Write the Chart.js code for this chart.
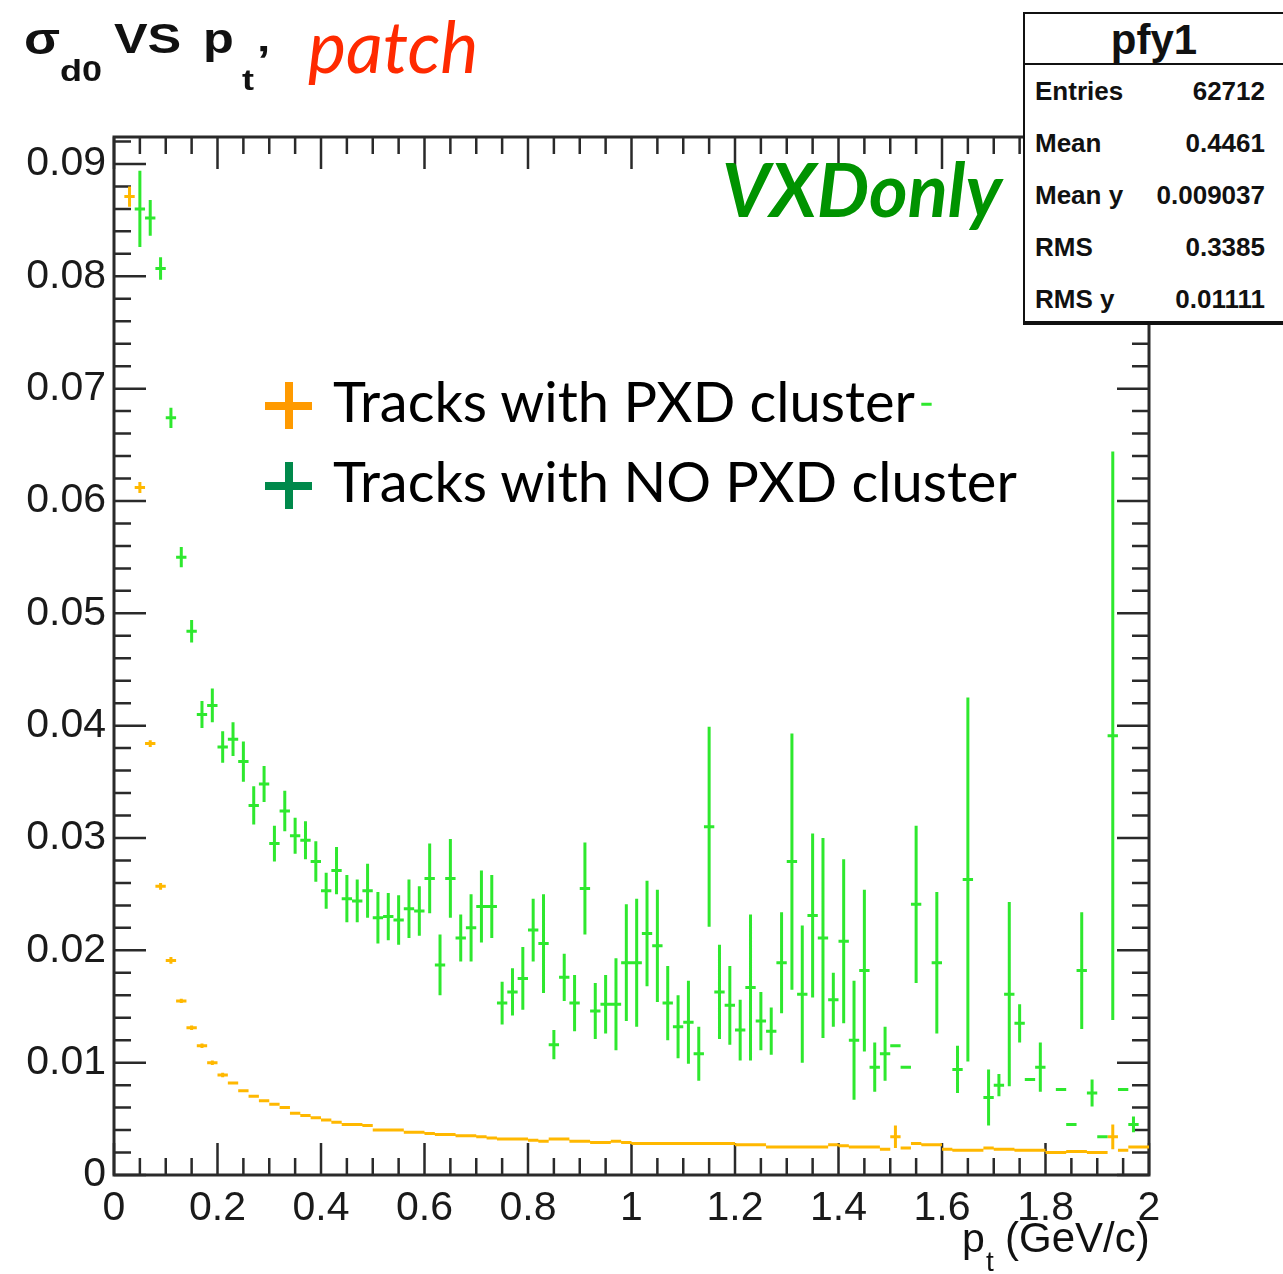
<!DOCTYPE html>
<html>
<head>
<meta charset="utf-8">
<script src="https://cdn.jsdelivr.net/npm/chart.js@4.4.1/dist/chart.umd.min.js"></script>
<style>
  html, body { margin: 0; background: #fff; }
  #wrap { position: relative; width: 1283px; height: 1274px; overflow: hidden; }
  #plot { position: absolute; left: 0; top: 0; }
  .t { position: absolute; line-height: 1; white-space: nowrap; }
  .root { font-family: 'Liberation Sans', Arial, sans-serif; color: #111; }
  .title { font-weight: bold; transform-origin: left top; transform: scaleX(1.2); }
  .gill { font-family: Lato, 'Open Sans', sans-serif; }
  .cross { position: absolute; width: 47px; height: 47px; }
  .cross::before, .cross::after { content: ''; position: absolute; background: var(--c); }
  .cross::before { left: 0; right: 0; top: 19.5px; height: 8px; }
  .cross::after { top: 0; bottom: 0; left: 19.5px; width: 8px; }
  #stats {
    position: absolute; left: 1023px; top: 12px; width: 280px; height: 307px;
    border: 2px solid #111; border-bottom-width: 4px; background: #fff;
    font: bold 26px 'Liberation Sans', Arial, sans-serif; color: #111; overflow: hidden;
  }
  #stats .head { width: 258px; height: 49px; border-bottom: 2px solid #111; text-align: center;
    font-size: 42px; line-height: 52px; }
  #stats .row { display: flex; justify-content: space-between; width: 230px; padding-left: 10px;
    height: 52px; line-height: 52px; }
</style>
</head>
<body>
<div id="wrap">
  <canvas id="plot" width="1283" height="1274"></canvas>

  <!-- title -->
  <span class="t root title" style="left:24px; top:17px; font-size:44px;">σ</span>
  <span class="t root title" style="left:60px; top:56px; font-size:30px;">d0</span>
  <span class="t root title" style="left:114px; top:18px; font-size:42px;">VS</span>
  <span class="t root title" style="left:203px; top:18px; font-size:42px;">p</span>
  <span class="t root title" style="left:242px; top:65px; font-size:30px;">t</span>
  <span class="t root title" style="left:257px; top:40px; font-size:40px;">’</span>
  <span class="t gill" style="left:308px; top:9px; font-size:72px; font-style:italic; color:#ff2a00;">patch</span>

  <span class="t gill" style="left:722px; top:152px; font-size:74px; font-style:italic; font-weight:bold; color:#009300;">VXDonly</span>

  <!-- legend -->
  <div class="cross" style="left:265px; top:382px; --c:#ff9a00;"></div>
  <div class="cross" style="left:265px; top:462px; --c:#00894b;"></div>
  <span class="t gill" style="left:333px; top:373px; font-size:56px; color:#000;">Tracks with PXD cluster</span>
  <span class="t gill" style="left:333px; top:453px; font-size:56px; color:#000;">Tracks with NO PXD cluster</span>

  <!-- x axis title -->
  <span class="t root" style="left:962px; top:1218px; font-size:41px;">p</span>
  <span class="t root" style="left:986px; top:1248px; font-size:28px;">t</span>
  <span class="t root" style="left:1005px; top:1217px; font-size:42px;">(GeV/c)</span>

  <!-- stats box -->
  <div id="stats">
    <div class="head">pfy1</div>
    <div class="row"><span>Entries</span><span>62712</span></div>
    <div class="row"><span>Mean</span><span>0.4461</span></div>
    <div class="row"><span>Mean y</span><span>0.009037</span></div>
    <div class="row"><span>RMS</span><span>0.3385</span></div>
    <div class="row"><span>RMS y</span><span>0.01111</span></div>
  </div>
</div>

<script>
// profile bins: 100 bins of 0.02 GeV/c between 0 and 2
const binCenters = [
  0.01, 0.03, 0.05, 0.07, 0.09, 0.11, 0.13, 0.15, 0.17, 0.19,
  0.21, 0.23, 0.25, 0.27, 0.29, 0.31, 0.33, 0.35, 0.37, 0.39,
  0.41, 0.43, 0.45, 0.47, 0.49, 0.51, 0.53, 0.55, 0.57, 0.59,
  0.61, 0.63, 0.65, 0.67, 0.69, 0.71, 0.73, 0.75, 0.77, 0.79,
  0.81, 0.83, 0.85, 0.87, 0.89, 0.91, 0.93, 0.95, 0.97, 0.99,
  1.01, 1.03, 1.05, 1.07, 1.09, 1.11, 1.13, 1.15, 1.17, 1.19,
  1.21, 1.23, 1.25, 1.27, 1.29, 1.31, 1.33, 1.35, 1.37, 1.39,
  1.41, 1.43, 1.45, 1.47, 1.49, 1.51, 1.53, 1.55, 1.57, 1.59,
  1.61, 1.63, 1.65, 1.67, 1.69, 1.71, 1.73, 1.75, 1.77, 1.79,
  1.81, 1.83, 1.85, 1.87, 1.89, 1.91, 1.93, 1.95, 1.97, 1.99,
];
const binHalfWidth = 0.01;

// tracks with PXD cluster (orange)
const pxdMean = [
  null, 0.0871, 0.0612, 0.0384, 0.0257, 0.0191, 0.0155, 0.0131, 0.0115, 0.0100,
  0.0089, 0.0082, 0.0075, 0.0070, 0.0066, 0.0063, 0.0060, 0.0055, 0.0053, 0.0051,
  0.0049, 0.0047, 0.0045, 0.0045, 0.0044, 0.0040, 0.0040, 0.0040, 0.0038, 0.0038,
  0.0037, 0.0036, 0.0036, 0.0035, 0.0035, 0.0034, 0.0033, 0.0032, 0.0032, 0.0032,
  0.0031, 0.0030, 0.0032, 0.0032, 0.0030, 0.0030, 0.0029, 0.0029, 0.0030, 0.0029,
  0.0028, 0.0028, 0.0028, 0.0028, 0.0028, 0.0028, 0.0028, 0.0028, 0.0028, 0.0028,
  0.0027, 0.0027, 0.0027, 0.0025, 0.0025, 0.0025, 0.0025, 0.0025, 0.0025, 0.0027,
  0.0026, 0.0025, 0.0025, 0.0025, 0.0023, 0.0034, 0.0024, 0.0028, 0.0027, 0.0027,
  0.0023, 0.0022, 0.0022, 0.0022, 0.0024, 0.0023, 0.0023, 0.0022, 0.0022, 0.0022,
  0.0020, 0.0020, 0.0021, 0.0021, 0.0020, 0.0020, 0.0034, 0.0022, 0.0025, 0.0025,
];
const pxdErr = [
  0, 0.0009, 0.0005, 0.0003, 0.0003, 0.0003, 0.0002, 0.0002, 0.0002, 0.0002,
  0.0002, 0.0001, 0.0001, 0.0001, 0.0001, 0.0001, 0.0001, 0.0001, 0.0001, 0.0001,
  0.0001, 0.0001, 0.0001, 0.0001, 0.0001, 0, 0, 0, 0, 0,
  0, 0, 0, 0, 0, 0, 0, 0, 0, 0,
  0, 0, 0, 0, 0, 0, 0, 0, 0, 0,
  0, 0, 0, 0, 0, 0, 0, 0, 0, 0,
  0, 0, 0, 0, 0, 0, 0, 0, 0, 0,
  0, 0, 0, 0, 0, 0.0010, 0, 0, 0, 0,
  0, 0, 0, 0, 0, 0, 0, 0, 0, 0,
  0, 0, 0, 0, 0, 0, 0.0011, 0, 0, 0,
];

// tracks with NO PXD cluster (green)
const noPxdMean = [
  null, null, 0.0860, 0.0852, 0.0807, 0.0674, 0.0550, 0.0484, 0.0410, 0.0418,
  0.0381, 0.0388, 0.0368, 0.0329, 0.0348, 0.0295, 0.0324, 0.0302, 0.0298, 0.0279,
  0.0253, 0.0271, 0.0246, 0.0244, 0.0253, 0.0229, 0.0230, 0.0227, 0.0237, 0.0235,
  0.0264, 0.0187, 0.0264, 0.0211, 0.0220, 0.0239, 0.0239, 0.0153, 0.0163, 0.0175,
  0.0218, 0.0206, 0.0116, 0.0176, 0.0153, 0.0255, 0.0146, 0.0152, 0.0152, 0.0189,
  0.0189, 0.0215, 0.0204, 0.0153, 0.0132, 0.0136, 0.0108, 0.0310, 0.0163, 0.0151,
  0.0129, 0.0167, 0.0137, 0.0128, 0.0189, 0.0279, 0.0161, 0.0231, 0.0211, 0.0156,
  0.0208, 0.0120, 0.0182, 0.0096, 0.0108, 0.0115, 0.0096, 0.0241, 0.0686, 0.0189,
  null, 0.0094, 0.0263, null, 0.0069, 0.0080, 0.0161, 0.0135, 0.0085, 0.0096,
  null, 0.0076, 0.0045, 0.0182, 0.0073, 0.0034, 0.0391, 0.0076, 0.0045, null,
];
const noPxdErr = [
  0, 0, 0.0034, 0.0016, 0.0010, 0.0009, 0.0009, 0.0010, 0.0012, 0.0015,
  0.0014, 0.0015, 0.0018, 0.0017, 0.0016, 0.0016, 0.0018, 0.0016, 0.0017, 0.0018,
  0.0016, 0.0021, 0.0021, 0.0019, 0.0024, 0.0023, 0.0021, 0.0022, 0.0026, 0.0022,
  0.0031, 0.0027, 0.0035, 0.0021, 0.0030, 0.0032, 0.0028, 0.0019, 0.0021, 0.0028,
  0.0028, 0.0044, 0.0013, 0.0021, 0.0025, 0.0041, 0.0025, 0.0026, 0.0041, 0.0052,
  0.0057, 0.0047, 0.0050, 0.0033, 0.0028, 0.0037, 0.0024, 0.0089, 0.0042, 0.0035,
  0.0027, 0.0065, 0.0026, 0.0021, 0.0045, 0.0114, 0.0061, 0.0073, 0.0089, 0.0024,
  0.0073, 0.0053, 0.0072, 0.0022, 0.0024, 0, 0, 0.0070, 0, 0.0063,
  0, 0.0021, 0.0162, 0, 0.0025, 0.0010, 0.0082, 0.0017, 0, 0.0022,
  0, 0, 0, 0.0052, 0.0012, 0, 0.0253, 0, 0.0007, 0,
];

const xTickStep = 0.2;
const yTickStep = 0.01;
const yMax = 0.0924;

function toPoints(means, errs) {
  return binCenters
    .map((x, i) => ({ x, y: means[i], ey: errs[i] }))
    .filter((p) => p.y !== null);
}

// ROOT-style frame: ticks on all four sides, pointing inward
const rootFrame = {
  id: 'rootFrame',
  beforeDatasetsDraw(chart) {
    const { ctx, chartArea: a, scales: { x, y } } = chart;
    const major = 32;
    const minor = 17;
    ctx.save();
    ctx.strokeStyle = '#2a2a2a';
    ctx.lineWidth = 2.5;
    ctx.beginPath();
    const xt = x.ticks.map((t) => t.value);
    xt.forEach((v, i) => {
      const px = x.getPixelForValue(v);
      ctx.moveTo(px, a.bottom); ctx.lineTo(px, a.bottom - major);
      ctx.moveTo(px, a.top); ctx.lineTo(px, a.top + major);
      if (i === xt.length - 1) return;
      for (let k = 1; k < 4; k++) {
        const m = x.getPixelForValue(v + (k * (xt[i + 1] - v)) / 4);
        ctx.moveTo(m, a.bottom); ctx.lineTo(m, a.bottom - minor);
        ctx.moveTo(m, a.top); ctx.lineTo(m, a.top + minor);
      }
    });
    const yt = y.ticks.map((t) => t.value);
    yt.forEach((v, i) => {
      const py = y.getPixelForValue(v);
      ctx.moveTo(a.left, py); ctx.lineTo(a.left + major, py);
      ctx.moveTo(a.right, py); ctx.lineTo(a.right - major, py);
      const next = i < yt.length - 1 ? yt[i + 1] : v + yTickStep;
      for (let k = 1; k < 5; k++) {
        const val = v + (k * (next - v)) / 5;
        if (val > y.max) break;
        const m = y.getPixelForValue(val);
        ctx.moveTo(a.left, m); ctx.lineTo(a.left + minor, m);
        ctx.moveTo(a.right, m); ctx.lineTo(a.right - minor, m);
      }
    });
    ctx.stroke();
    ctx.lineWidth = 3;
    ctx.strokeRect(a.left, a.top, a.right - a.left, a.bottom - a.top);
    ctx.restore();
  },
};

// profile markers: horizontal bar = bin width, vertical bar = error on the mean
const errorBars = {
  id: 'errorBars',
  afterDatasetsDraw(chart) {
    const { ctx, chartArea: a, scales: { x, y } } = chart;
    ctx.save();
    ctx.beginPath();
    ctx.rect(a.left, a.top, a.right - a.left, a.bottom - a.top);
    ctx.clip();
    chart.data.datasets.forEach((ds) => {
      ctx.strokeStyle = ds.borderColor;
      ctx.lineWidth = ds.borderWidth;
      ctx.beginPath();
      ds.data.forEach((p) => {
        const py = y.getPixelForValue(p.y);
        const px = x.getPixelForValue(p.x);
        ctx.moveTo(x.getPixelForValue(p.x - binHalfWidth), py);
        ctx.lineTo(x.getPixelForValue(p.x + binHalfWidth), py);
        if (p.ey > 0) {
          ctx.moveTo(px, y.getPixelForValue(p.y - p.ey));
          ctx.lineTo(px, y.getPixelForValue(p.y + p.ey));
        }
      });
      ctx.stroke();
    });
    ctx.restore();
  },
};

const tickFont = { family: "'Liberation Sans', Arial, sans-serif", size: 41 };

new Chart(document.getElementById('plot'), {
  type: 'scatter',
  data: {
    datasets: [
      { label: 'Tracks with PXD cluster', data: toPoints(pxdMean, pxdErr), borderColor: '#ffb800', borderWidth: 3 },
      { label: 'Tracks with NO PXD cluster', data: toPoints(noPxdMean, noPxdErr), borderColor: '#2ee82e', borderWidth: 3 },
    ],
  },
  options: {
    responsive: false,
    animation: false,
    devicePixelRatio: 1,
    layout: { padding: { top: 137, right: 134, left: 0, bottom: 0 } },
    elements: { point: { radius: 0, hoverRadius: 0 } },
    plugins: { legend: { display: false }, tooltip: { enabled: false } },
    scales: {
      x: {
        type: 'linear',
        min: 0,
        max: 2,
        afterFit: (s) => { s.height = 99; },
        grid: { display: false, drawTicks: false },
        border: { display: false },
        ticks: {
          stepSize: xTickStep,
          autoSkip: false,
          maxRotation: 0,
          padding: 9,
          color: '#1a1a1a',
          font: tickFont,
          callback: (v) => (v === 0 ? '0' : String(Number(v.toFixed(1)))),
        },
      },
      y: {
        type: 'linear',
        min: 0,
        max: yMax,
        afterFit: (s) => { s.width = 114; },
        grid: { display: false, drawTicks: false },
        border: { display: false },
        ticks: {
          stepSize: yTickStep,
          includeBounds: false,
          padding: 8,
          color: '#1a1a1a',
          font: tickFont,
          callback: (v) => (v === 0 ? '0' : v.toFixed(2)),
        },
      },
    },
  },
  plugins: [rootFrame, errorBars],
});
</script>
</body>
</html>
